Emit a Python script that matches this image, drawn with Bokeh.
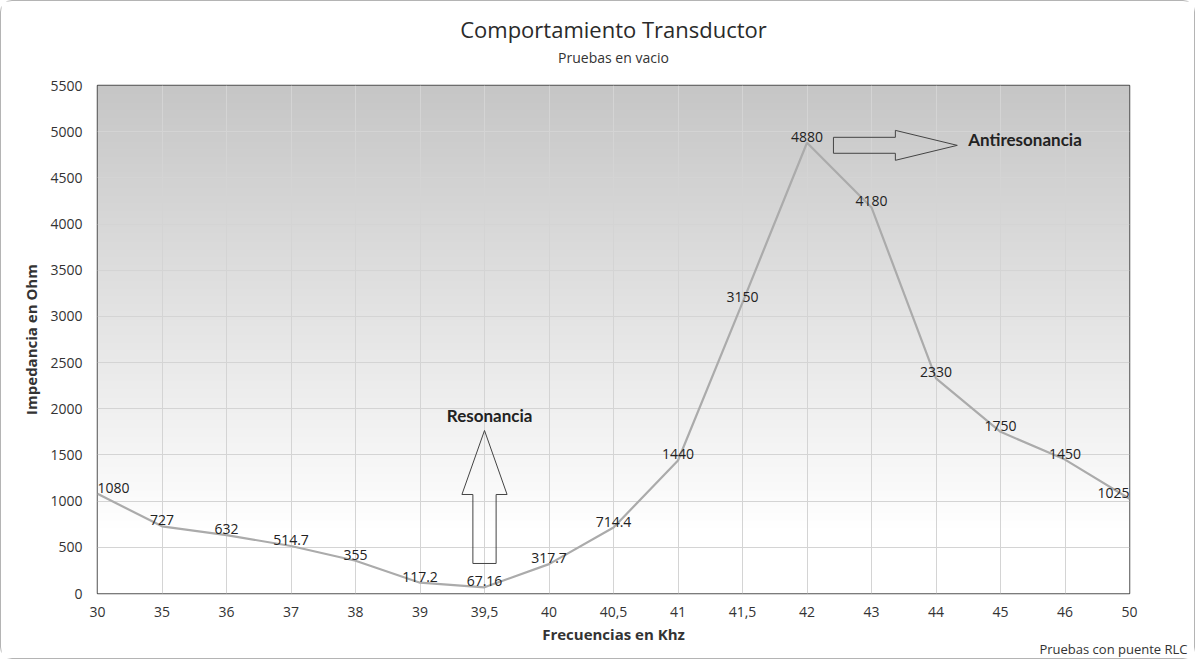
import numpy as np
from bokeh.plotting import figure
from bokeh.models import FixedTicker, Range1d, Title, Label, ColumnDataSource
from bokeh.core.properties import value
from bokeh.embed import file_html
from bokeh.resources import INLINE

freq_labels = ["30", "35", "36", "37", "38", "39", "39,5", "40", "40,5", "41",
               "41,5", "42", "43", "44", "45", "46", "50"]
impedance = [1080, 727, 632, 514.7, 355, 117.2, 67.16, 317.7, 714.4, 1440,
             3150, 4880, 4180, 2330, 1750, 1450, 1025]
value_texts = ["1080", "727", "632", "514.7", "355", "117.2", "67.16", "317.7", "714.4",
               "1440", "3150", "4880", "4180", "2330", "1750", "1450", "1025"]
y_ticks = list(range(0, 5501, 500))

FONT = "Open Sans"
ANN_FONT = "Lato"
n = len(freq_labels)
xs = list(range(n))

W, H = 1195, 659
p = figure(width=W, height=H, output_backend="svg", toolbar_location=None,
           x_range=Range1d(0, n - 1), y_range=Range1d(0, 5500),
           min_border_left=96, min_border_right=W - 1128,
           min_border_top=84, min_border_bottom=H - 592)
p.styles = {"border": "1px solid #b4b4b4", "border-radius": "12px"}

# background gradient of the plotting area
rows = 300
yy = np.linspace(0, 5500, rows)
g = np.clip(255 - 57 * (yy - 700) / 4800, 198, 255).astype(np.uint32)
img = np.zeros((rows, 1), dtype=np.uint32)
view = img.view(dtype=np.uint8).reshape((rows, 1, 4))
view[:, 0, 0] = g
view[:, 0, 1] = g
view[:, 0, 2] = g
view[:, 0, 3] = 255
p.image_rgba(image=[img], x=0, y=0, dw=n - 1, dh=5500, level="image")

# grid and frame
p.xgrid.ticker = FixedTicker(ticks=xs)
p.ygrid.ticker = FixedTicker(ticks=y_ticks)
p.grid.grid_line_color = "#d4d4d4"
p.grid.grid_line_width = 1
p.grid.level = "underlay"
p.outline_line_color = "#505050"
p.outline_line_width = 1.5
p.background_fill_color = "white"

# axes
p.xaxis.ticker = FixedTicker(ticks=xs)
p.xaxis.major_label_overrides = {i: lab for i, lab in enumerate(freq_labels)}
p.yaxis.ticker = FixedTicker(ticks=y_ticks)
for ax in (p.xaxis[0], p.yaxis[0]):
    ax.axis_line_color = None
    ax.major_tick_line_color = None
    ax.minor_tick_line_color = None
    ax.major_label_text_font = FONT
    ax.major_label_text_font_size = "14px"
    ax.major_label_text_color = "#333333"
    ax.axis_label_text_font = FONT
    ax.axis_label_text_font_size = "15px"
    ax.axis_label_text_font_style = "bold"
    ax.axis_label_text_color = "#333333"
p.xaxis.major_label_standoff = 7
p.yaxis.major_label_standoff = 9
p.xaxis.axis_label = "Frecuencias en Khz"
p.yaxis.axis_label = "Impedancia en Ohm"
p.xaxis.axis_label_standoff = 4
p.yaxis.axis_label_standoff = 6

# titles
p.add_layout(Title(text="Pruebas en vacio", align="center", text_font=FONT,
                   text_font_size="14px", text_font_style="normal",
                   text_color="#333333", standoff=37), "above")
p.add_layout(Title(text="Comportamiento Transductor", align="center", text_font=FONT,
                   text_font_size="22px", text_font_style="normal",
                   text_color="#2a2a2a", standoff=-32), "above")
# footer credit
p.add_layout(Title(text="Pruebas con puente RLC", align="right", text_font=FONT,
                   text_font_size="13px", text_font_style="normal",
                   text_line_height=1.0,
                   text_color="#333333", standoff=-23, offset=-58), "below")

# Resonance arrow (points up toward the minimum)
i_min = int(np.argmin(impedance))
cx = xs[i_min]
sw, hw = 0.18, 0.35
rx = [cx - sw, cx + sw, cx + sw, cx + hw, cx, cx - hw, cx - sw]
ry = [325, 325, 1072, 1072, 1765, 1072, 1072]
p.patch(rx, ry, fill_color="white", fill_alpha=0.0, line_color="#444444", line_width=1)
p.add_layout(Label(x=cx + 0.08, y=1930, text="Resonancia", text_align="center",
                   text_baseline="middle", text_font=ANN_FONT,
                   text_font_size="17px", text_font_style="bold", text_color="#222222"))

# Antiresonance arrow (points right from the maximum)
i_max = int(np.argmax(impedance))
a0 = xs[i_max] + 0.41
axx = [a0, a0 + 0.96, a0 + 0.96, a0 + 1.92, a0 + 0.96, a0 + 0.96, a0]
ayy = [4939, 4939, 5014, 4852, 4690, 4766, 4766]
p.patch(axx, ayy, fill_color="white", fill_alpha=0.0, line_color="#444444", line_width=1)
p.add_layout(Label(x=a0 + 2.09, y=4917, text="Antiresonancia", text_align="left",
                   text_baseline="middle", text_font=ANN_FONT,
                   text_font_size="17px", text_font_style="bold", text_color="#222222"))

# line and data labels
src = ColumnDataSource(dict(x=xs, y=impedance, t=value_texts,
                            align=["left"] + ["center"] * (n - 2) + ["right"]))
p.line("x", "y", source=src, line_color="#ababab", line_width=2.2)
p.text("x", "y", text="t", source=src, text_align="align", text_baseline="bottom",
       y_offset=-1, text_font=value(FONT), text_font_size="14px", text_color="#222222")

open("out.html", "w").write(file_html(p, INLINE))
